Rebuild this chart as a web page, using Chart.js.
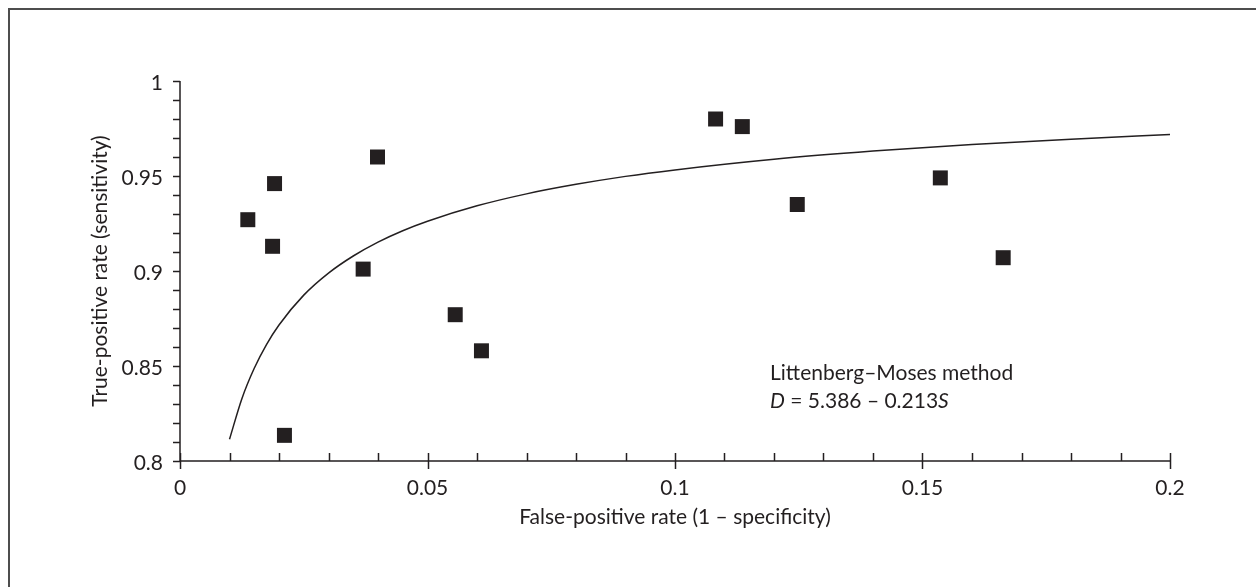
<!DOCTYPE html>
<html lang="en">
<head>
    <meta charset="UTF-8">
    <title>SROC curve</title>
    <style>
        body {
            margin: 0;
            background: #fff;
            overflow: hidden;
        }
        .frame {
            position: absolute;
            left: 8px;
            top: 8px;
            width: 1400px;
            height: 800px;
            border: 2px solid #4d4d4d;
        }
        canvas {
            position: absolute;
            left: 0;
            top: 0;
        }
    </style>
</head>
<body>
    <div class="frame"></div>
    <canvas id="sroc" width="1256" height="587"></canvas>

    <script src="https://cdn.jsdelivr.net/npm/chart.js"></script>
    <script>
        // study points (1 - specificity, sensitivity)
        const studyFpr = [0.0137, 0.0191, 0.0187, 0.0211, 0.0399, 0.037, 0.0556, 0.0609, 0.1082, 0.1136, 0.1247, 0.1536, 0.1663];
        const studyTpr = [0.927, 0.946, 0.913, 0.8135, 0.96, 0.901, 0.877, 0.858, 0.98, 0.976, 0.935, 0.949, 0.907];

        // fitted SROC curve
        const curveFpr = [0.01, 0.0125, 0.015, 0.0175, 0.02, 0.025, 0.03, 0.035, 0.04, 0.045, 0.05, 0.06, 0.07, 0.08, 0.09, 0.1, 0.12, 0.14, 0.16, 0.18, 0.2];
        const curveTpr = [0.8114, 0.8328, 0.8488, 0.8614, 0.8716, 0.8873, 0.8989, 0.9079, 0.9152, 0.9212, 0.9262, 0.9343, 0.9406, 0.9456, 0.9498, 0.9532, 0.9588, 0.9631, 0.9666, 0.9694, 0.9718];

        const xMajorTicks = [0, 0.05, 0.1, 0.15, 0.2];
        const yMajorTicks = [0.8, 0.85, 0.9, 0.95, 1];
        const minorStep = 0.01;

        const xTitle = 'False-positive rate (1 \u2013 specificity)';
        const yTitle = 'True-positive rate (sensitivity)';
        const noteLine1 = 'Littenberg\u2013Moses method';
        const noteLine2 = ['D', ' = 5.386 \u2013 0.213', 'S'];
        const notePos = { x: 0.1192, y: 0.8426 };

        const ink = '#231f20';
        const fontFamily = 'Lato, "Open Sans", sans-serif';
        const fontSize = 21;

        function isMajor(v, list) {
            return list.some(t => Math.abs(t - v) < 1e-6);
        }

        function fmt(v) {
            return String(parseFloat(v.toFixed(2)));
        }

        // axis lines, tick marks, tick labels and the text note
        const axisPlugin = {
            id: 'axisPlugin',
            afterDraw(chart) {
                const ctx = chart.ctx;
                const xs = chart.scales.x;
                const ys = chart.scales.y;
                const left = xs.getPixelForValue(0);
                const right = xs.getPixelForValue(0.2);
                const bottom = ys.getPixelForValue(0.8);
                const top = ys.getPixelForValue(1);

                ctx.save();
                ctx.strokeStyle = ink;
                ctx.lineWidth = 1.5;
                ctx.beginPath();
                ctx.moveTo(left, top);
                ctx.lineTo(left, bottom);
                ctx.lineTo(right, bottom);

                // y ticks, all outward
                for (let v = 0.8; v <= 1.0001; v += minorStep) {
                    const py = Math.round(ys.getPixelForValue(v)) + 0.5;
                    ctx.moveTo(left - 7, py);
                    ctx.lineTo(left, py);
                }
                // x ticks: minor inward, major crossing
                for (let v = 0; v <= 0.2001; v += minorStep) {
                    const px = Math.round(xs.getPixelForValue(v)) + 0.5;
                    const major = isMajor(v, xMajorTicks);
                    ctx.moveTo(px, bottom - 8);
                    ctx.lineTo(px, major ? bottom + 8 : bottom);
                }
                ctx.stroke();

                // tick labels
                ctx.fillStyle = ink;
                ctx.font = fontSize + 'px ' + fontFamily;
                ctx.textBaseline = 'alphabetic';
                ctx.textAlign = 'right';
                yMajorTicks.forEach(v => {
                    ctx.fillText(fmt(v), left - 17, ys.getPixelForValue(v) + 9);
                });
                ctx.textAlign = 'center';
                xMajorTicks.forEach(v => {
                    ctx.fillText(fmt(v), xs.getPixelForValue(v), bottom + 34);
                });

                // note
                ctx.textAlign = 'left';
                const nx = xs.getPixelForValue(notePos.x);
                const ny = ys.getPixelForValue(notePos.y);
                ctx.fillText(noteLine1, nx, ny);
                let cx = nx;
                noteLine2.forEach((part, i) => {
                    ctx.font = (i === 1 ? '' : 'italic ') + fontSize + 'px ' + fontFamily;
                    ctx.fillText(part, cx, ny + 28);
                    cx += ctx.measureText(part).width;
                });
                ctx.restore();
            }
        };

        const ctx = document.getElementById('sroc').getContext('2d');

        new Chart(ctx, {
            type: 'scatter',
            data: {
                datasets: [
                    {
                        label: 'Studies',
                        data: studyFpr.map((x, i) => ({ x: x, y: studyTpr[i] })),
                        pointStyle: 'rect',
                        pointRadius: 10.6,
                        pointBorderWidth: 0,
                        backgroundColor: ink,
                        borderColor: ink,
                        order: 1
                    },
                    {
                        label: 'SROC',
                        data: curveFpr.map((x, i) => ({ x: x, y: curveTpr[i] })),
                        showLine: true,
                        pointRadius: 0,
                        borderColor: ink,
                        borderWidth: 1.5,
                        cubicInterpolationMode: 'monotone',
                        order: 2
                    }
                ]
            },
            options: {
                responsive: false,
                animation: false,
                devicePixelRatio: 1,
                layout: {
                    padding: { left: 80, top: 81, right: 86, bottom: 0 }
                },
                plugins: {
                    legend: { display: false },
                    tooltip: { enabled: false }
                },
                scales: {
                    x: {
                        type: 'linear',
                        min: 0,
                        max: 0.2,
                        grid: { display: false },
                        border: { display: false },
                        ticks: { display: false },
                        afterFit: s => { s.height = 126; },
                        title: {
                            display: true,
                            text: xTitle,
                            color: ink,
                            font: { family: fontFamily, size: fontSize },
                            padding: { top: 0, bottom: 57.4 }
                        }
                    },
                    y: {
                        type: 'linear',
                        min: 0.8,
                        max: 1,
                        grid: { display: false },
                        border: { display: false },
                        ticks: { display: false },
                        afterFit: s => { s.width = 100; },
                        title: {
                            display: true,
                            text: yTitle,
                            color: ink,
                            font: { family: fontFamily, size: fontSize },
                            padding: { top: 7.4, bottom: 0 }
                        }
                    }
                }
            },
            plugins: [axisPlugin]
        });
    </script>
</body>
</html>
